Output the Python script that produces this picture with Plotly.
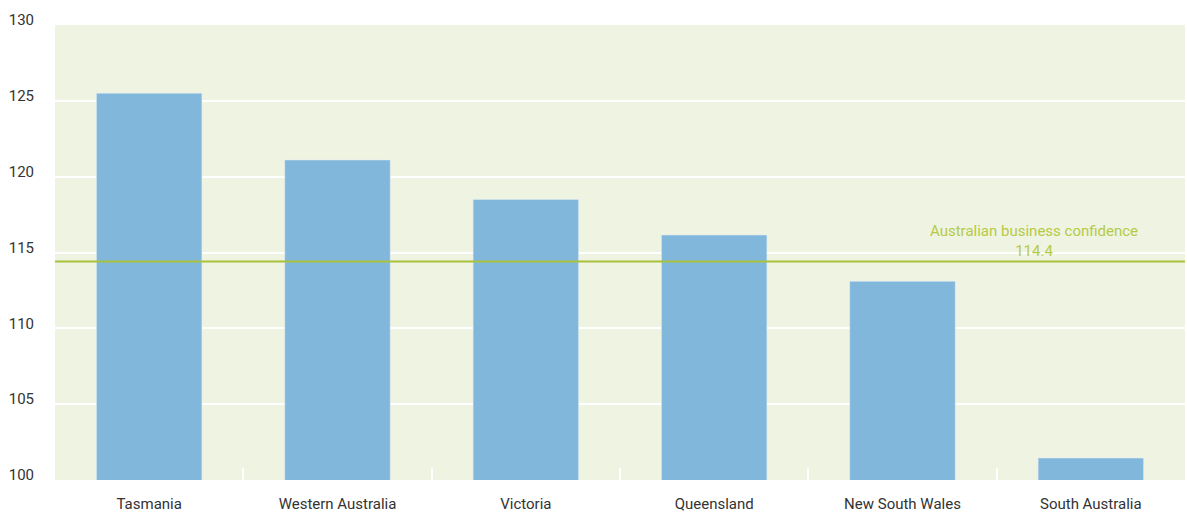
import plotly.graph_objects as go

states = ["Tasmania", "Western Australia", "Victoria", "Queensland", "New South Wales", "South Australia"]
confidence = [125.5, 121.1, 118.5, 116.15, 113.1, 101.45]
national_avg = 114.4
y_ticks = [100, 105, 110, 115, 120, 125, 130]

FONT = "Roboto, Arial, sans-serif"
GREEN = "#a9c23c"

fig = go.Figure()
fig.add_trace(go.Bar(x=states, y=confidence, marker_color="#80b7db", width=0.56, hoverinfo="x+y"))

fig.add_hline(y=national_avg, line_color=GREEN, line_width=2)
fig.add_annotation(
    x=0.866, xref="paper", xanchor="center", y=national_avg, yref="y",
    text=f"Australian business confidence<br>{national_avg}",
    showarrow=False, yanchor="bottom", yshift=0,
    font=dict(family=FONT, size=15, color="#b5cb45"),
)

fig.update_layout(
    width=1187, height=513,
    margin=dict(l=55, r=2, t=25, b=33),
    paper_bgcolor="white",
    plot_bgcolor="#eff3e2",
    font=dict(family=FONT, size=15, color="#333333"),
    showlegend=False,
    bargap=0.44,
)
fig.update_xaxes(
    showgrid=False, ticks="inside", tickson="boundaries",
    tickcolor="white", ticklen=12, tickwidth=2,
    ticklabelstandoff=13, zeroline=False, automargin=False,
)
fig.update_yaxes(
    range=[100, 130], tickvals=y_ticks, showgrid=True,
    gridcolor="white", gridwidth=2, zeroline=False,
    ticklabelstandoff=20, ticklabelshift=-5,
)

# drop the browser's default body margin so the figure sits at the page corner
fig.write_html(
    "out.html",
    config={"displayModeBar": False},
    post_script="document.body.style.margin='0';",
)
